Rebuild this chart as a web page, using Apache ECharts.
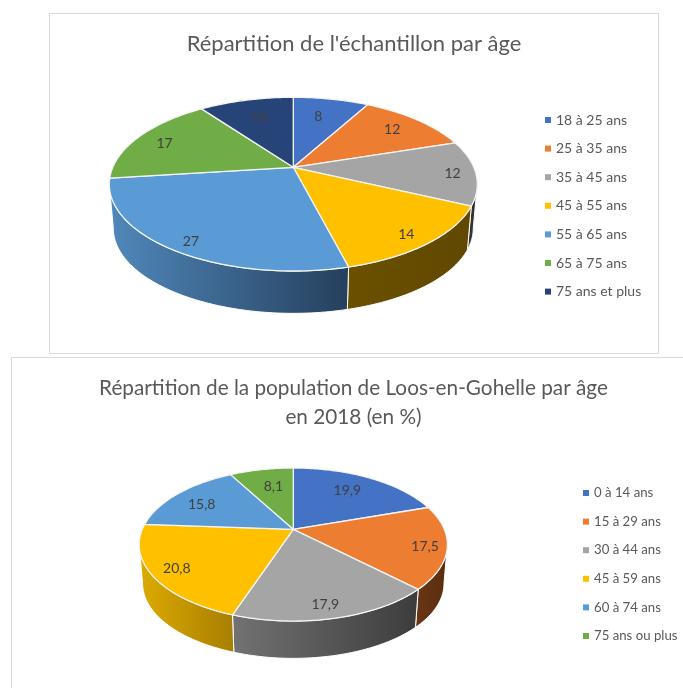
<!DOCTYPE html>
<html>
<head>
<meta charset="utf-8">
<style>html,body{margin:0;padding:0;background:#fff}#c{width:683px;height:688px}</style>
<script src="https://cdn.jsdelivr.net/npm/echarts@6/dist/echarts.min.js"></script>
</head>
<body>
<div id="c"></div>
<script>
// ---- data ----
const categoriesA = ['18 à 25 ans','25 à 35 ans','35 à 45 ans','45 à 55 ans','55 à 65 ans','65 à 75 ans','75 ans et plus'];
const valuesA = [8,12,12,14,27,17,10];
const categoriesB = ['0 à 14 ans','15 à 29 ans','30 à 44 ans','45 à 59 ans','60 à 74 ans','75 ans ou plus'];
const valuesB = [19.9,17.5,17.9,20.8,15.8,8.1];
const titleA = "Répartition de l'échantillon par âge";
const titleB = "Répartition de la population de Loos-en-Gohelle par âge\nen 2018 (en %)";

// ---- styles ----
const FONT = 'Lato, "Open Sans", sans-serif';
const colorsA = ['#4472c4','#ed7d31','#a5a5a5','#ffc000','#5b9bd5','#70ad47','#264478'];
const colorsB = ['#4472c4','#ed7d31','#a5a5a5','#ffc000','#5b9bd5','#70ad47'];
// wall shading [left, right]
const wallsA = [null,null,['#3a3a3a','#2a2a2a'],['#6b5000','#604800'],['#5088bb','#253f5c'],null,null];
const wallsB = [null,['#6a3614','#5a2d10'],['#727272','#3c3c3c'],['#dcab00','#a87e00'],null,null];
const labelFracA = [.65,.78,.88,.87,.89,.82,.68];
const labelFracB = [.72,.88,.85,.82,.76,.68];
const labelShiftA = [-1,0,-1,-2,3,-1,0];
const labelShiftB = [-3,-3,-3,-3,-2,3];
const labelDropA = [-4,0,2,3,2,2,-2];
const labelDropB = [0,2,2,3,3,0];
const geoA = {cx:293.3,cy:167.3,a:180.5,b:83.6,k:.194,depth:44.6,shrink:.978};
const geoB = {cx:293.3,cy:529.3,a:151,b:73.5,k:.199,depth:39.3,shrink:.978};

function project(g,thetaDeg,f,lower){
  const t=thetaDeg*Math.PI/180, u=Math.sin(t)*f, v=Math.cos(t)*f, d=1+g.k*v;
  const s=lower?g.shrink:1, off=lower?g.depth:0;
  return [g.cx+s*g.a*u/d, g.cy+off-s*g.b*v/d];
}
function arc(g,from,to,f,lower){
  const pts=[], n=Math.max(2,Math.ceil(Math.abs(to-from)));
  for(let i=0;i<=n;i++) pts.push(project(g,from+(to-from)*i/n,f,lower));
  return pts;
}
function makeSeries(cats,vals,colors,walls,fracs,shiftX,shiftY,g){
  const total=vals.reduce((a,b)=>a+b,0);
  // silhouette of the disc: the side is visible only between these angles
  const lim=Math.asin(g.k)*180/Math.PI, sFrom=90+lim, sTo=270-lim;
  let cum=0;
  return cats.map((name,i)=>{
    const before=cum; cum+=vals[i];
    return {
      type:'custom',name,coordinateSystem:'none',silent:true,
      itemStyle:{color:colors[i]},
      data:[[vals[i],before]],
      renderItem(params,api){
        const v=api.value(0), b=api.value(1);
        const a0=b/total*360, a1=(b+v)/total*360, children=[];
        const w0=Math.max(a0,sFrom), w1=Math.min(a1,sTo);
        if(w1>w0 && walls[i]){
          children.push({type:'polygon',silent:true,
            shape:{points:arc(g,w0,w1,1,false).concat(arc(g,w1,w0,1,true))},
            style:{fill:new echarts.graphic.LinearGradient(0,0,1,0,[{offset:0,color:walls[i][0]},{offset:1,color:walls[i][1]}]),stroke:'#fff',lineWidth:1}});
        }
        children.push({type:'polygon',silent:true,
          shape:{points:[[g.cx,g.cy]].concat(arc(g,a0,a1,1,false))},
          style:{fill:colors[i],stroke:'#f4f4f4',lineWidth:1.3,lineJoin:'round'}});
        const p=project(g,(a0+a1)/2,fracs[i],false);
        children.push({type:'text',silent:true,z2:10,
          style:{text:String(v).replace('.',','),x:p[0]+shiftX[i],y:p[1]+shiftY[i],align:'center',verticalAlign:'middle',fill:'#404040',font:'14px '+FONT}});
        return {type:'group',children};
      }
    };
  });
}
const legendBase={orient:'vertical',icon:'rect',itemWidth:6,itemHeight:6,selectedMode:false};
const legendText=(size)=>({fontFamily:FONT,fontSize:size,color:'#595959',lineHeight:16});
const chart=echarts.init(document.getElementById('c'),null,{renderer:'canvas'});
chart.setOption({
  animation:false,backgroundColor:'#fff',
  graphic:[
    {type:'rect',silent:true,shape:{x:49.5,y:13.5,width:609,height:340},style:{fill:'none',stroke:'#d9d9d9',lineWidth:1}},
    {type:'rect',silent:true,shape:{x:11.5,y:357.5,width:720,height:400},style:{fill:'none',stroke:'#d9d9d9',lineWidth:1}}
  ],
  title:[
    {text:titleA,left:349,top:28,textAlign:'center',textStyle:{fontFamily:FONT,fontSize:22,fontWeight:'normal',color:'#595959'}},
    {text:titleB,left:348.5,top:369,textAlign:'center',textStyle:{fontFamily:FONT,fontSize:20.75,fontWeight:'normal',color:'#595959',lineHeight:29}}
  ],
  legend:[
    Object.assign({},legendBase,{data:categoriesA,left:540,top:107,itemGap:12.6,textStyle:legendText(14)}),
    Object.assign({},legendBase,{data:categoriesB,left:578,top:480,itemGap:12.6,textStyle:legendText(13.2)})
  ],
  series:[...makeSeries(categoriesA,valuesA,colorsA,wallsA,labelFracA,labelShiftA,labelDropA,geoA),
          ...makeSeries(categoriesB,valuesB,colorsB,wallsB,labelFracB,labelShiftB,labelDropB,geoB)]
});
</script>
</body>
</html>
